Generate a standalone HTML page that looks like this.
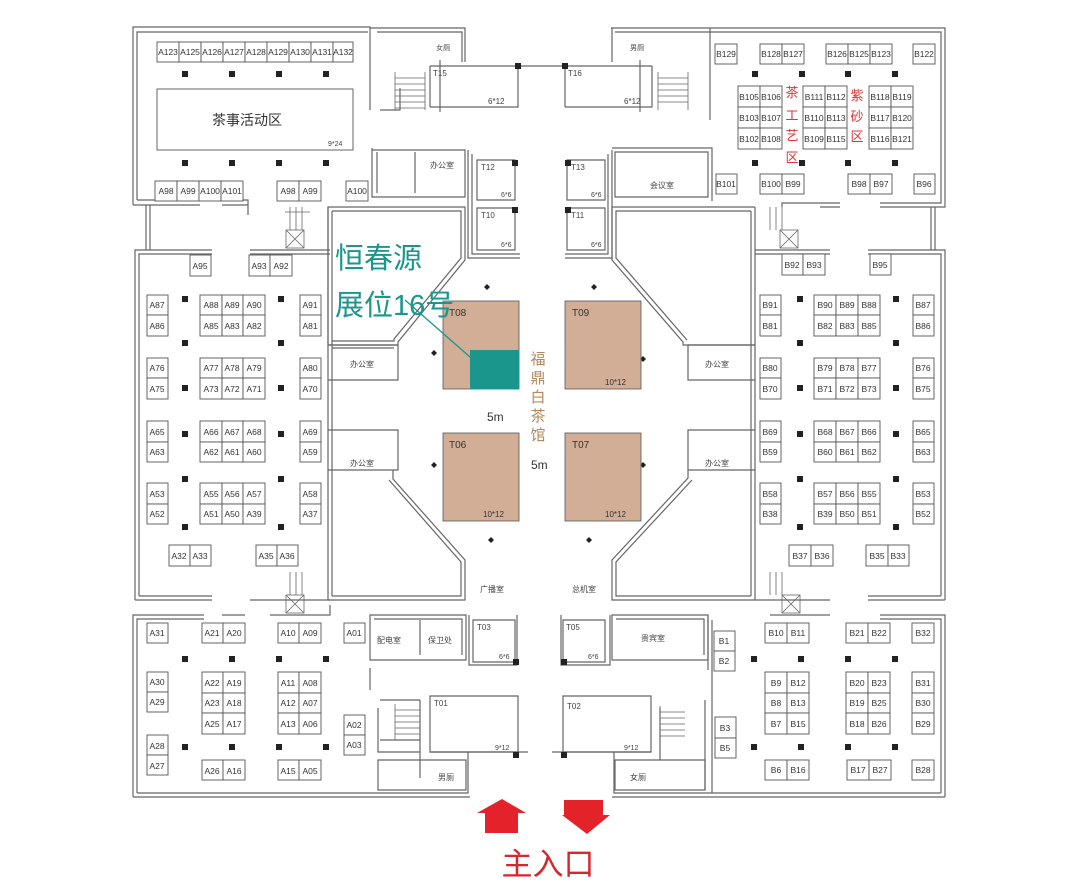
<!DOCTYPE html>
<html><head><meta charset="utf-8"><style>
html,body{margin:0;padding:0;background:#fff}
svg{display:block}
.b rect{fill:#fff;stroke:#555;stroke-width:.9}
.b text{font-family:"Liberation Sans",sans-serif;font-size:8.5px;fill:#333;text-anchor:middle}
.w{fill:none;stroke:#666;stroke-width:1.2}
.p{fill:#222}
.s{font-family:"Liberation Sans","Noto Sans CJK SC",sans-serif;font-size:8px;fill:#444}
</style></head><body>
<svg width="1080" height="887" viewBox="0 0 1080 887" xmlns="http://www.w3.org/2000/svg">
<g class="w">
<path d="M133 205V27H370V110M137 200V32H368M133 205H200M137 200H200M222 205H248M230 200H248V215"/>
<path d="M370 28H465V62M377 32H462V62M380 110H400V88M440 112V60"/>
<path d="M611 28H710V110M615 32H706M710 28H945V207H880M706 32H941V203H880M710 110V120M840 203H782V207M820 207H840"/>
<path d="M612 28V62M640 60V112"/>
<path d="M430 66H652M430 107H518V66M565 107H652V66M430 66V107M565 66V107"/>
<path d="M372 148V197H465V150H372M377 152V193M415 152V193"/>
<path d="M468 150V258H520M472 154V254H520M477 160H515V200H477ZM477 208H515V250H477Z"/>
<path d="M612 150V258H565M608 154V254H565M567 160H605V200H567ZM567 208H605V250H567Z"/>
<path d="M615 152H708V197H615ZM612 148H712V201"/>
<path d="M328 207H465V260L398 342V345H328Z"/>
<path d="M332 211H461V258L394 339V341H332"/>
<path d="M328 207V600M332 211V596"/>
<path d="M328 345H398V380H328M332 348H394"/>
<path d="M328 430H398V470H328"/>
<path d="M328 600H465V560L393 479V470M332 596H461V562L389 480"/>
<path d="M755 207H612V260L683 342V345H755M751 211H616V258L687 340"/>
<path d="M755 207V600M751 211V596"/>
<path d="M755 345H688V380H755"/>
<path d="M755 430H688V470H755"/>
<path d="M755 600H612V560L688 478V470M751 596H616V562L692 480"/>
<path d="M135 600V250H212M139 596V254H212M250 250H330M250 254H330"/>
<path d="M135 600H212M139 596H212M250 600H330"/>
<path d="M150 205V250M146 205V250"/>
<path d="M945 600V250H868M941 596V254H868M830 250H755M830 254H755"/>
<path d="M945 600H868M941 596H868M830 600H755"/>
<path d="M935 207V250M931 207V250"/>
<path d="M133 797V615H204M137 793V619H204M222 615H245M270 615H330V605M133 797H470M137 793H468V752"/>
<path d="M370 615H466V660H370ZM374 619H462V655M420 620V655"/>
<path d="M469 615V665H517V615M473 620H515V662H473Z"/>
<path d="M370 668V690M378 708V752H420M378 760H466V790H378Z"/>
<path d="M430 696H518V752H430ZM420 700V778"/>
<path d="M380 700H420M380 740H420"/>
<path d="M945 797V615H880M941 793V619H880M830 615H770M945 797H612M941 793H614V752"/>
<path d="M612 615H708V660H612ZM616 619H704V655"/>
<path d="M610 615V665H561V615M605 620H563V662H605Z"/>
<path d="M708 615V670M712 620V793"/>
<path d="M563 696H651V752H563ZM615 760H705V790H615Z"/>
<path d="M660 708V760M705 700V790"/>
<path d="M430 752H528M552 752H651"/>
</g>
<g stroke="#666" stroke-width=".8" fill="none">
<path d="M395 78H425M395 84H425M395 90H425M395 96H425M395 102H425M395 108H425M395 72V110M425 72V110"/>
<path d="M658 78H688M658 84H688M658 90H688M658 96H688M658 102H688M658 72V110M688 72V110"/>
<path d="M290 207V230M296 207V230M302 207V230M285 212H310"/>
<rect x="286" y="230" width="18" height="18"/><path d="M286 230L304 248M304 230L286 248"/>
<path d="M770 207V230M776 207V230M782 207V230"/>
<rect x="780" y="230" width="18" height="18"/><path d="M780 230L798 248M798 230L780 248"/>
<path d="M290 572V595M296 572V595M302 572V595"/>
<rect x="286" y="595" width="18" height="18"/><path d="M286 595L304 613M304 595L286 613"/>
<path d="M770 572V595M776 572V595M782 572V595"/>
<rect x="782" y="595" width="18" height="18"/><path d="M782 595L800 613M800 595L782 613"/>
<path d="M395 710H420M395 716H420M395 722H420M395 728H420M395 734H420M395 704V740"/>
<path d="M660 712H685M660 718H685M660 724H685M660 730H685M660 736H685M660 706V742"/>
<rect x="157" y="89" width="196" height="61" stroke="#555" stroke-width=".9"/>
</g>
<g class="p">
<rect x="182" y="71" width="6" height="6"/><rect x="229" y="71" width="6" height="6"/><rect x="276" y="71" width="6" height="6"/><rect x="323" y="71" width="6" height="6"/>
<rect x="182" y="160" width="6" height="6"/><rect x="229" y="160" width="6" height="6"/><rect x="276" y="160" width="6" height="6"/><rect x="323" y="160" width="6" height="6"/>
<rect x="752" y="71" width="6" height="6"/><rect x="799" y="71" width="6" height="6"/><rect x="845" y="71" width="6" height="6"/><rect x="892" y="71" width="6" height="6"/>
<rect x="752" y="160" width="6" height="6"/><rect x="799" y="160" width="6" height="6"/><rect x="845" y="160" width="6" height="6"/><rect x="892" y="160" width="6" height="6"/>
<rect x="182" y="296" width="6" height="6"/><rect x="278" y="296" width="6" height="6"/><rect x="182" y="340" width="6" height="6"/><rect x="278" y="340" width="6" height="6"/>
<rect x="182" y="385" width="6" height="6"/><rect x="278" y="385" width="6" height="6"/><rect x="182" y="431" width="6" height="6"/><rect x="278" y="431" width="6" height="6"/>
<rect x="182" y="476" width="6" height="6"/><rect x="278" y="476" width="6" height="6"/><rect x="182" y="524" width="6" height="6"/><rect x="278" y="524" width="6" height="6"/>
<rect x="797" y="296" width="6" height="6"/><rect x="893" y="296" width="6" height="6"/><rect x="797" y="340" width="6" height="6"/><rect x="893" y="340" width="6" height="6"/>
<rect x="797" y="385" width="6" height="6"/><rect x="893" y="385" width="6" height="6"/><rect x="797" y="431" width="6" height="6"/><rect x="893" y="431" width="6" height="6"/>
<rect x="797" y="476" width="6" height="6"/><rect x="893" y="476" width="6" height="6"/><rect x="797" y="524" width="6" height="6"/><rect x="893" y="524" width="6" height="6"/>
<rect x="182" y="656" width="6" height="6"/><rect x="229" y="656" width="6" height="6"/><rect x="276" y="656" width="6" height="6"/><rect x="323" y="656" width="6" height="6"/>
<rect x="182" y="744" width="6" height="6"/><rect x="229" y="744" width="6" height="6"/><rect x="276" y="744" width="6" height="6"/><rect x="323" y="744" width="6" height="6"/>
<rect x="751" y="656" width="6" height="6"/><rect x="798" y="656" width="6" height="6"/><rect x="845" y="656" width="6" height="6"/><rect x="892" y="656" width="6" height="6"/>
<rect x="751" y="744" width="6" height="6"/><rect x="798" y="744" width="6" height="6"/><rect x="845" y="744" width="6" height="6"/><rect x="892" y="744" width="6" height="6"/>
<rect x="515" y="63" width="6" height="6"/><rect x="562" y="63" width="6" height="6"/><rect x="512" y="160" width="6" height="6"/><rect x="512" y="207" width="6" height="6"/>
<rect x="565" y="160" width="6" height="6"/><rect x="565" y="207" width="6" height="6"/>
<rect x="513" y="659" width="6" height="6"/><rect x="561" y="659" width="6" height="6"/><rect x="513" y="752" width="6" height="6"/><rect x="561" y="752" width="6" height="6"/>
<path d="M487 284l3 3-3 3-3-3z"/><path d="M594 284l3 3-3 3-3-3z"/><path d="M434 350l3 3-3 3-3-3z"/><path d="M643 356l3 3-3 3-3-3z"/>
<path d="M434 462l3 3-3 3-3-3z"/><path d="M643 462l3 3-3 3-3-3z"/><path d="M491 537l3 3-3 3-3-3z"/><path d="M589 537l3 3-3 3-3-3z"/>
</g>
<rect x="443" y="301" width="76" height="88" fill="#d1ae95" stroke="#555" stroke-width=".8"/>
<rect x="470" y="350" width="49" height="39" fill="#1b968c"/>
<rect x="565" y="301" width="76" height="88" fill="#d1ae95" stroke="#555" stroke-width=".8"/>
<rect x="443" y="433" width="76" height="88" fill="#d1ae95" stroke="#555" stroke-width=".8"/>
<rect x="565" y="433" width="76" height="88" fill="#d1ae95" stroke="#555" stroke-width=".8"/>
<line x1="405" y1="300" x2="470" y2="357" stroke="#1b968c" stroke-width="1.3"/>
<g font-family="Liberation Sans,sans-serif" font-size="10" fill="#333">
<text x="449" y="316">T08</text><text x="572" y="316">T09</text><text x="449" y="448">T06</text><text x="572" y="448">T07</text>
<text x="605" y="385" font-size="8">10*12</text><text x="483" y="517" font-size="8">10*12</text><text x="605" y="517" font-size="8">10*12</text>
<text x="487" y="421" font-size="12">5m</text><text x="531" y="469" font-size="12">5m</text>
</g>
<text x="335" y="268" font-family="Liberation Sans,Noto Sans CJK SC,sans-serif" font-size="29" fill="#1b968c">恒春源</text>
<text x="335" y="315" font-family="Liberation Sans,Noto Sans CJK SC,sans-serif" font-size="29" fill="#1b968c">展位16号</text>
<g font-family="Noto Sans CJK SC,sans-serif" font-size="15" fill="#b4885c" text-anchor="middle">
<text x="538" y="364">福</text><text x="538" y="383">鼎</text><text x="538" y="402">白</text><text x="538" y="421">茶</text><text x="538" y="440">馆</text>
</g>
<g font-family="Noto Sans CJK SC,sans-serif" font-size="13" fill="#d33" text-anchor="middle">
<text x="792" y="97">茶</text><text x="792" y="120">工</text><text x="792" y="140">艺</text><text x="792" y="162">区</text>
<text x="857" y="100">紫</text><text x="857" y="121">砂</text><text x="857" y="141">区</text>
</g>
<g class="s">
<text x="212" y="125" font-size="14" fill="#333">茶事活动区</text><text x="328" y="146" font-size="7">9*24</text>
<text x="433" y="76">T15</text><text x="488" y="104">6*12</text><text x="568" y="76">T16</text><text x="624" y="104">6*12</text>
<text x="436" y="50" font-size="7">女厕</text><text x="630" y="50" font-size="7">男厕</text>
<text x="430" y="168" font-size="8">办公室</text><text x="650" y="188" font-size="8">会议室</text>
<text x="481" y="170">T12</text><text x="501" y="197" font-size="7">6*6</text><text x="481" y="218">T10</text><text x="501" y="247" font-size="7">6*6</text>
<text x="571" y="170">T13</text><text x="591" y="197" font-size="7">6*6</text><text x="571" y="218">T11</text><text x="591" y="247" font-size="7">6*6</text>
<text x="350" y="367">办公室</text><text x="350" y="466">办公室</text><text x="705" y="367">办公室</text><text x="705" y="466">办公室</text>
<text x="480" y="592">广播室</text><text x="572" y="592">总机室</text>
<text x="377" y="643">配电室</text><text x="428" y="643">保卫处</text><text x="641" y="641">贵宾室</text>
<text x="477" y="630">T03</text><text x="499" y="659" font-size="7">6*6</text><text x="566" y="630">T05</text><text x="588" y="659" font-size="7">6*6</text>
<text x="434" y="706">T01</text><text x="495" y="750" font-size="7">9*12</text><text x="567" y="709">T02</text><text x="624" y="750" font-size="7">9*12</text>
<text x="438" y="780">男厕</text><text x="630" y="780">女厕</text>
</g>
<g class="b">
<rect x="157" y="42" width="22" height="20"/><text x="168" y="55">A123</text>
<rect x="179" y="42" width="22" height="20"/><text x="190" y="55">A125</text>
<rect x="201" y="42" width="22" height="20"/><text x="212" y="55">A126</text>
<rect x="223" y="42" width="22" height="20"/><text x="234" y="55">A127</text>
<rect x="245" y="42" width="22" height="20"/><text x="256" y="55">A128</text>
<rect x="267" y="42" width="22" height="20"/><text x="278" y="55">A129</text>
<rect x="289" y="42" width="22" height="20"/><text x="300" y="55">A130</text>
<rect x="311" y="42" width="22" height="20"/><text x="322" y="55">A131</text>
<rect x="333" y="42" width="20" height="20"/><text x="343" y="55">A132</text>
<rect x="155" y="181" width="22" height="20"/><text x="166" y="194">A98</text>
<rect x="177" y="181" width="22" height="20"/><text x="188" y="194">A99</text>
<rect x="199" y="181" width="22" height="20"/><text x="210" y="194">A100</text>
<rect x="221" y="181" width="22" height="20"/><text x="232" y="194">A101</text>
<rect x="277" y="181" width="22" height="20"/><text x="288" y="194">A98</text>
<rect x="299" y="181" width="22" height="20"/><text x="310" y="194">A99</text>
<rect x="346" y="181" width="22" height="20"/><text x="357" y="194">A100</text>
<rect x="715" y="44" width="22" height="20"/><text x="726" y="57">B129</text>
<rect x="760" y="44" width="22" height="20"/><text x="771" y="57">B128</text>
<rect x="782" y="44" width="22" height="20"/><text x="793" y="57">B127</text>
<rect x="826" y="44" width="22" height="20"/><text x="837" y="57">B126</text>
<rect x="848" y="44" width="22" height="20"/><text x="859" y="57">B125</text>
<rect x="870" y="44" width="22" height="20"/><text x="881" y="57">B123</text>
<rect x="913" y="44" width="22" height="20"/><text x="924" y="57">B122</text>
<rect x="738" y="86" width="22" height="21"/><text x="749" y="100">B105</text>
<rect x="760" y="86" width="22" height="21"/><text x="771" y="100">B106</text>
<rect x="738" y="107" width="22" height="21"/><text x="749" y="121">B103</text>
<rect x="760" y="107" width="22" height="21"/><text x="771" y="121">B107</text>
<rect x="738" y="128" width="22" height="21"/><text x="749" y="142">B102</text>
<rect x="760" y="128" width="22" height="21"/><text x="771" y="142">B108</text>
<rect x="803" y="86" width="22" height="21"/><text x="814" y="100">B111</text>
<rect x="825" y="86" width="22" height="21"/><text x="836" y="100">B112</text>
<rect x="803" y="107" width="22" height="21"/><text x="814" y="121">B110</text>
<rect x="825" y="107" width="22" height="21"/><text x="836" y="121">B113</text>
<rect x="803" y="128" width="22" height="21"/><text x="814" y="142">B109</text>
<rect x="825" y="128" width="22" height="21"/><text x="836" y="142">B115</text>
<rect x="869" y="86" width="22" height="21"/><text x="880" y="100">B118</text>
<rect x="891" y="86" width="22" height="21"/><text x="902" y="100">B119</text>
<rect x="869" y="107" width="22" height="21"/><text x="880" y="121">B117</text>
<rect x="891" y="107" width="22" height="21"/><text x="902" y="121">B120</text>
<rect x="869" y="128" width="22" height="21"/><text x="880" y="142">B116</text>
<rect x="891" y="128" width="22" height="21"/><text x="902" y="142">B121</text>
<rect x="716" y="174" width="21" height="20"/><text x="726" y="187">B101</text>
<rect x="760" y="174" width="22" height="20"/><text x="771" y="187">B100</text>
<rect x="782" y="174" width="22" height="20"/><text x="793" y="187">B99</text>
<rect x="848" y="174" width="22" height="20"/><text x="859" y="187">B98</text>
<rect x="870" y="174" width="22" height="20"/><text x="881" y="187">B97</text>
<rect x="914" y="174" width="21" height="20"/><text x="924" y="187">B96</text>
<rect x="190" y="255" width="21" height="21"/><text x="200" y="269">A95</text>
<rect x="249" y="255" width="21" height="21"/><text x="259" y="269">A93</text>
<rect x="270" y="255" width="22" height="21"/><text x="281" y="269">A92</text>
<rect x="147" y="295" width="21" height="20"/><text x="157" y="308">A87</text>
<rect x="147" y="315" width="21" height="21"/><text x="157" y="329">A86</text>
<rect x="200" y="295" width="22" height="20"/><text x="211" y="308">A88</text>
<rect x="222" y="295" width="21" height="20"/><text x="232" y="308">A89</text>
<rect x="243" y="295" width="22" height="20"/><text x="254" y="308">A90</text>
<rect x="200" y="315" width="22" height="21"/><text x="211" y="329">A85</text>
<rect x="222" y="315" width="21" height="21"/><text x="232" y="329">A83</text>
<rect x="243" y="315" width="22" height="21"/><text x="254" y="329">A82</text>
<rect x="300" y="295" width="21" height="20"/><text x="310" y="308">A91</text>
<rect x="300" y="315" width="21" height="21"/><text x="310" y="329">A81</text>
<rect x="147" y="358" width="21" height="20"/><text x="157" y="371">A76</text>
<rect x="147" y="378" width="21" height="21"/><text x="157" y="392">A75</text>
<rect x="200" y="358" width="22" height="20"/><text x="211" y="371">A77</text>
<rect x="222" y="358" width="21" height="20"/><text x="232" y="371">A78</text>
<rect x="243" y="358" width="22" height="20"/><text x="254" y="371">A79</text>
<rect x="200" y="378" width="22" height="21"/><text x="211" y="392">A73</text>
<rect x="222" y="378" width="21" height="21"/><text x="232" y="392">A72</text>
<rect x="243" y="378" width="22" height="21"/><text x="254" y="392">A71</text>
<rect x="300" y="358" width="21" height="20"/><text x="310" y="371">A80</text>
<rect x="300" y="378" width="21" height="21"/><text x="310" y="392">A70</text>
<rect x="147" y="421" width="21" height="21"/><text x="157" y="435">A65</text>
<rect x="147" y="442" width="21" height="20"/><text x="157" y="455">A63</text>
<rect x="200" y="421" width="22" height="21"/><text x="211" y="435">A66</text>
<rect x="222" y="421" width="21" height="21"/><text x="232" y="435">A67</text>
<rect x="243" y="421" width="22" height="21"/><text x="254" y="435">A68</text>
<rect x="200" y="442" width="22" height="20"/><text x="211" y="455">A62</text>
<rect x="222" y="442" width="21" height="20"/><text x="232" y="455">A61</text>
<rect x="243" y="442" width="22" height="20"/><text x="254" y="455">A60</text>
<rect x="300" y="421" width="21" height="21"/><text x="310" y="435">A69</text>
<rect x="300" y="442" width="21" height="20"/><text x="310" y="455">A59</text>
<rect x="147" y="483" width="21" height="21"/><text x="157" y="497">A53</text>
<rect x="147" y="504" width="21" height="20"/><text x="157" y="517">A52</text>
<rect x="200" y="483" width="22" height="21"/><text x="211" y="497">A55</text>
<rect x="222" y="483" width="21" height="21"/><text x="232" y="497">A56</text>
<rect x="243" y="483" width="22" height="21"/><text x="254" y="497">A57</text>
<rect x="200" y="504" width="22" height="20"/><text x="211" y="517">A51</text>
<rect x="222" y="504" width="21" height="20"/><text x="232" y="517">A50</text>
<rect x="243" y="504" width="22" height="20"/><text x="254" y="517">A39</text>
<rect x="300" y="483" width="21" height="21"/><text x="310" y="497">A58</text>
<rect x="300" y="504" width="21" height="20"/><text x="310" y="517">A37</text>
<rect x="169" y="545" width="21" height="21"/><text x="179" y="559">A32</text>
<rect x="190" y="545" width="21" height="21"/><text x="200" y="559">A33</text>
<rect x="256" y="545" width="21" height="21"/><text x="266" y="559">A35</text>
<rect x="277" y="545" width="21" height="21"/><text x="287" y="559">A36</text>
<rect x="782" y="254" width="21" height="21"/><text x="792" y="268">B92</text>
<rect x="803" y="254" width="22" height="21"/><text x="814" y="268">B93</text>
<rect x="870" y="254" width="21" height="21"/><text x="880" y="268">B95</text>
<rect x="760" y="295" width="21" height="20"/><text x="770" y="308">B91</text>
<rect x="760" y="315" width="21" height="21"/><text x="770" y="329">B81</text>
<rect x="814" y="295" width="22" height="20"/><text x="825" y="308">B90</text>
<rect x="836" y="295" width="22" height="20"/><text x="847" y="308">B89</text>
<rect x="858" y="295" width="22" height="20"/><text x="869" y="308">B88</text>
<rect x="814" y="315" width="22" height="21"/><text x="825" y="329">B82</text>
<rect x="836" y="315" width="22" height="21"/><text x="847" y="329">B83</text>
<rect x="858" y="315" width="22" height="21"/><text x="869" y="329">B85</text>
<rect x="913" y="295" width="21" height="20"/><text x="923" y="308">B87</text>
<rect x="913" y="315" width="21" height="21"/><text x="923" y="329">B86</text>
<rect x="760" y="358" width="21" height="20"/><text x="770" y="371">B80</text>
<rect x="760" y="378" width="21" height="21"/><text x="770" y="392">B70</text>
<rect x="814" y="358" width="22" height="20"/><text x="825" y="371">B79</text>
<rect x="836" y="358" width="22" height="20"/><text x="847" y="371">B78</text>
<rect x="858" y="358" width="22" height="20"/><text x="869" y="371">B77</text>
<rect x="814" y="378" width="22" height="21"/><text x="825" y="392">B71</text>
<rect x="836" y="378" width="22" height="21"/><text x="847" y="392">B72</text>
<rect x="858" y="378" width="22" height="21"/><text x="869" y="392">B73</text>
<rect x="913" y="358" width="21" height="20"/><text x="923" y="371">B76</text>
<rect x="913" y="378" width="21" height="21"/><text x="923" y="392">B75</text>
<rect x="760" y="421" width="21" height="21"/><text x="770" y="435">B69</text>
<rect x="760" y="442" width="21" height="20"/><text x="770" y="455">B59</text>
<rect x="814" y="421" width="22" height="21"/><text x="825" y="435">B68</text>
<rect x="836" y="421" width="22" height="21"/><text x="847" y="435">B67</text>
<rect x="858" y="421" width="22" height="21"/><text x="869" y="435">B66</text>
<rect x="814" y="442" width="22" height="20"/><text x="825" y="455">B60</text>
<rect x="836" y="442" width="22" height="20"/><text x="847" y="455">B61</text>
<rect x="858" y="442" width="22" height="20"/><text x="869" y="455">B62</text>
<rect x="913" y="421" width="21" height="21"/><text x="923" y="435">B65</text>
<rect x="913" y="442" width="21" height="20"/><text x="923" y="455">B63</text>
<rect x="760" y="483" width="21" height="21"/><text x="770" y="497">B58</text>
<rect x="760" y="504" width="21" height="20"/><text x="770" y="517">B38</text>
<rect x="814" y="483" width="22" height="21"/><text x="825" y="497">B57</text>
<rect x="836" y="483" width="22" height="21"/><text x="847" y="497">B56</text>
<rect x="858" y="483" width="22" height="21"/><text x="869" y="497">B55</text>
<rect x="814" y="504" width="22" height="20"/><text x="825" y="517">B39</text>
<rect x="836" y="504" width="22" height="20"/><text x="847" y="517">B50</text>
<rect x="858" y="504" width="22" height="20"/><text x="869" y="517">B51</text>
<rect x="913" y="483" width="21" height="21"/><text x="923" y="497">B53</text>
<rect x="913" y="504" width="21" height="20"/><text x="923" y="517">B52</text>
<rect x="789" y="545" width="22" height="21"/><text x="800" y="559">B37</text>
<rect x="811" y="545" width="22" height="21"/><text x="822" y="559">B36</text>
<rect x="866" y="545" width="22" height="21"/><text x="877" y="559">B35</text>
<rect x="888" y="545" width="21" height="21"/><text x="898" y="559">B33</text>
<rect x="147" y="623" width="21" height="20"/><text x="157" y="636">A31</text>
<rect x="202" y="623" width="21" height="20"/><text x="212" y="636">A21</text>
<rect x="223" y="623" width="22" height="20"/><text x="234" y="636">A20</text>
<rect x="278" y="623" width="21" height="20"/><text x="288" y="636">A10</text>
<rect x="299" y="623" width="22" height="20"/><text x="310" y="636">A09</text>
<rect x="344" y="623" width="21" height="20"/><text x="354" y="636">A01</text>
<rect x="147" y="672" width="21" height="20"/><text x="157" y="685">A30</text>
<rect x="147" y="692" width="21" height="20"/><text x="157" y="705">A29</text>
<rect x="202" y="672" width="21" height="21"/><text x="212" y="686">A22</text>
<rect x="223" y="672" width="22" height="21"/><text x="234" y="686">A19</text>
<rect x="202" y="693" width="21" height="20"/><text x="212" y="706">A23</text>
<rect x="223" y="693" width="22" height="20"/><text x="234" y="706">A18</text>
<rect x="202" y="713" width="21" height="21"/><text x="212" y="727">A25</text>
<rect x="223" y="713" width="22" height="21"/><text x="234" y="727">A17</text>
<rect x="278" y="672" width="21" height="21"/><text x="288" y="686">A11</text>
<rect x="299" y="672" width="22" height="21"/><text x="310" y="686">A08</text>
<rect x="278" y="693" width="21" height="20"/><text x="288" y="706">A12</text>
<rect x="299" y="693" width="22" height="20"/><text x="310" y="706">A07</text>
<rect x="278" y="713" width="21" height="21"/><text x="288" y="727">A13</text>
<rect x="299" y="713" width="22" height="21"/><text x="310" y="727">A06</text>
<rect x="344" y="715" width="21" height="20"/><text x="354" y="728">A02</text>
<rect x="344" y="735" width="21" height="20"/><text x="354" y="748">A03</text>
<rect x="147" y="735" width="21" height="20"/><text x="157" y="749">A28</text>
<rect x="147" y="755" width="21" height="20"/><text x="157" y="769">A27</text>
<rect x="202" y="760" width="21" height="20"/><text x="212" y="774">A26</text>
<rect x="223" y="760" width="22" height="20"/><text x="234" y="774">A16</text>
<rect x="278" y="760" width="21" height="20"/><text x="288" y="774">A15</text>
<rect x="299" y="760" width="22" height="20"/><text x="310" y="774">A05</text>
<rect x="714" y="631" width="21" height="20"/><text x="724" y="644">B1</text>
<rect x="714" y="651" width="21" height="20"/><text x="724" y="664">B2</text>
<rect x="765" y="623" width="22" height="20"/><text x="776" y="636">B10</text>
<rect x="787" y="623" width="22" height="20"/><text x="798" y="636">B11</text>
<rect x="846" y="623" width="22" height="20"/><text x="857" y="636">B21</text>
<rect x="868" y="623" width="22" height="20"/><text x="879" y="636">B22</text>
<rect x="912" y="623" width="22" height="20"/><text x="923" y="636">B32</text>
<rect x="765" y="672" width="22" height="21"/><text x="776" y="686">B9</text>
<rect x="787" y="672" width="22" height="21"/><text x="798" y="686">B12</text>
<rect x="765" y="693" width="22" height="20"/><text x="776" y="706">B8</text>
<rect x="787" y="693" width="22" height="20"/><text x="798" y="706">B13</text>
<rect x="765" y="713" width="22" height="21"/><text x="776" y="727">B7</text>
<rect x="787" y="713" width="22" height="21"/><text x="798" y="727">B15</text>
<rect x="846" y="672" width="22" height="21"/><text x="857" y="686">B20</text>
<rect x="868" y="672" width="22" height="21"/><text x="879" y="686">B23</text>
<rect x="846" y="693" width="22" height="20"/><text x="857" y="706">B19</text>
<rect x="868" y="693" width="22" height="20"/><text x="879" y="706">B25</text>
<rect x="846" y="713" width="22" height="21"/><text x="857" y="727">B18</text>
<rect x="868" y="713" width="22" height="21"/><text x="879" y="727">B26</text>
<rect x="912" y="672" width="22" height="21"/><text x="923" y="686">B31</text>
<rect x="912" y="693" width="22" height="20"/><text x="923" y="706">B30</text>
<rect x="912" y="713" width="22" height="21"/><text x="923" y="727">B29</text>
<rect x="715" y="717" width="21" height="21"/><text x="725" y="731">B3</text>
<rect x="715" y="738" width="21" height="20"/><text x="725" y="751">B5</text>
<rect x="765" y="760" width="22" height="20"/><text x="776" y="773">B6</text>
<rect x="787" y="760" width="22" height="20"/><text x="798" y="773">B16</text>
<rect x="847" y="760" width="22" height="20"/><text x="858" y="773">B17</text>
<rect x="869" y="760" width="22" height="20"/><text x="880" y="773">B27</text>
<rect x="912" y="760" width="22" height="20"/><text x="923" y="773">B28</text>
</g>
<path d="M502 799L526 813H518V833H485V813H477Z" fill="#e3222a"/>
<path d="M564 800H603V815H610L587 834L562 815H564Z" fill="#e3222a"/>
<text x="548" y="875" text-anchor="middle" font-family="Noto Sans CJK SC,sans-serif" font-size="31" fill="#d8262e">主入口</text>
</svg>
</body></html>
